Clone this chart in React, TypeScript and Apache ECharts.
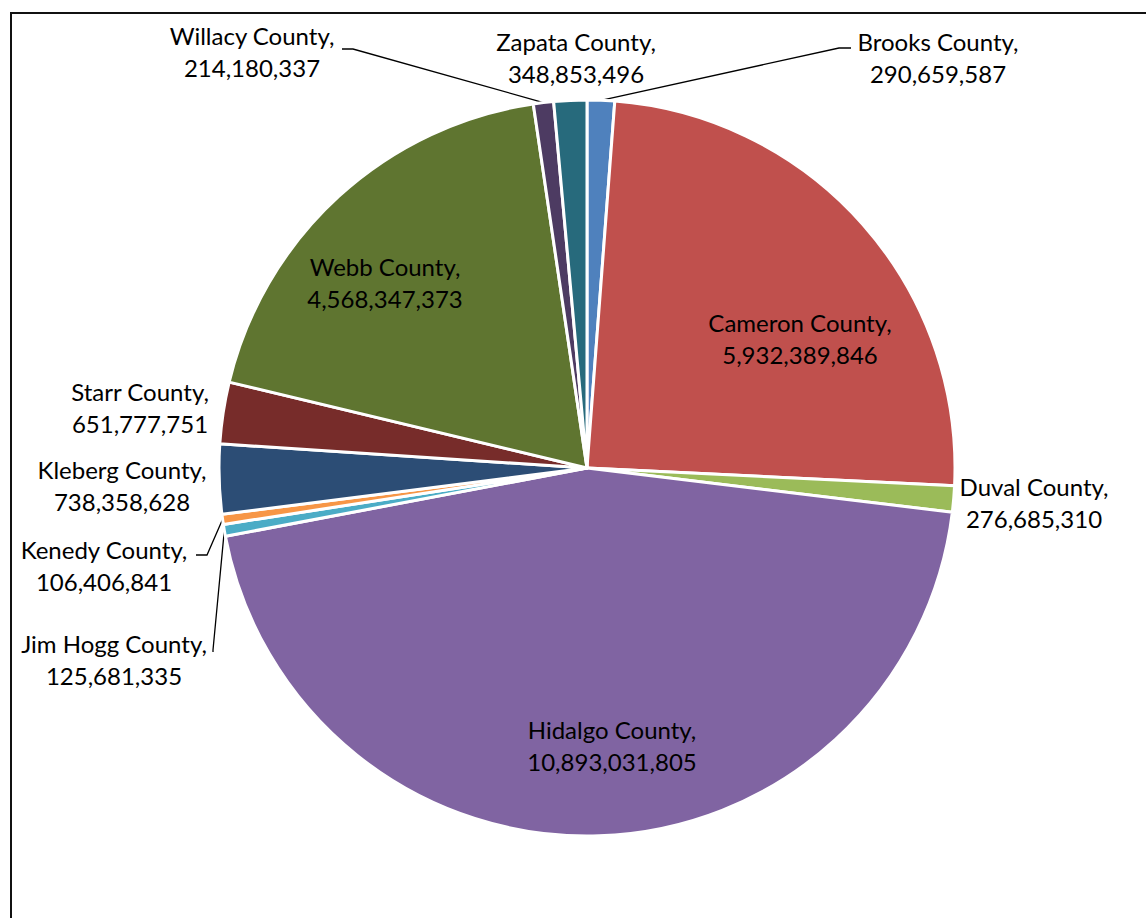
import React, { useEffect, useRef } from "react";
import * as echarts from "echarts";

// ---- data ----
const counties = [
  "Brooks County",
  "Cameron County",
  "Duval County",
  "Hidalgo County",
  "Jim Hogg County",
  "Kenedy County",
  "Kleberg County",
  "Starr County",
  "Webb County",
  "Willacy County",
  "Zapata County",
];
const amounts = [
  290659587, 5932389846, 276685310, 10893031805, 125681335, 106406841,
  738358628, 651777751, 4568347373, 214180337, 348853496,
];
const sliceColors = [
  "#4F81BD", "#C0504D", "#9BBB59", "#8064A2", "#4BACC6", "#F79646",
  "#2C4D75", "#772C2A", "#5F7530", "#4D3B62", "#276A7C",
];

// ---- label layout (positions of label blocks, centre point) ----
const labelCenters: Record<string, [number, number]> = {
  "Brooks County": [938, 57],
  "Cameron County": [800, 338],
  "Duval County": [1034, 502],
  "Hidalgo County": [612, 745],
  "Jim Hogg County": [114, 659],
  "Kenedy County": [104, 565],
  "Kleberg County": [122, 485],
  "Starr County": [140, 407],
  "Webb County": [385, 282],
  "Willacy County": [252, 51],
  "Zapata County": [576, 57],
};
// leader lines: elbow and end points (start comes from the slice edge)
const leaders: Record<string, [number, number][]> = {
  "Brooks County": [[839, 48], [851, 48]],
  "Willacy County": [[353, 49], [342, 49]],
  "Kenedy County": [[207, 555], [196, 555]],
  "Jim Hogg County": [[213, 650], [213, 652]],
};
const insideLabels = ["Cameron County", "Hidalgo County", "Webb County"];

export default function App() {
  const ref = useRef<HTMLDivElement>(null);
  useEffect(() => {
    if (!ref.current) return;
    const chart = echarts.init(ref.current, null, { renderer: "svg" });
    const data = counties.map((name, i) => ({
      name,
      value: amounts[i],
      itemStyle: { color: sliceColors[i] },
      label: { position: insideLabels.includes(name) ? "inside" : "outside" },
      labelLine: { show: !!leaders[name] },
    }));
    chart.setOption({
      animation: false,
      backgroundColor: "#ffffff",
      graphic: [
        {
          type: "rect",
          shape: { x: 11, y: 13, width: 1200, height: 1000 },
          style: { fill: "none", stroke: "#111", lineWidth: 2 },
          silent: true,
        },
      ],
      series: [
        {
          type: "pie",
          center: [587, 468],
          radius: 368,
          startAngle: 90,
          clockwise: true,
          avoidLabelOverlap: false,
          itemStyle: { borderColor: "#ffffff", borderWidth: 3 },
          label: {
            show: true,
            color: "#000",
            fontFamily: "Lato",
            fontSize: 24,
            lineHeight: 32,
            align: "center",
            formatter: (p: any) =>
              `${p.name},\n${Number(p.value).toLocaleString("en-US")}`,
          },
          labelLine: {
            lineStyle: { color: "#000", width: 1.3 },
            length: 20,
            length2: 10,
          },
          labelLayout: (params: any) => {
            const name = counties[params.dataIndex];
            const c = labelCenters[name];
            const out: any = {
              x: c[0],
              y: c[1],
              align: "center",
              verticalAlign: "middle",
            };
            const l = leaders[name];
            if (l && params.labelLinePoints) {
              out.labelLinePoints = [params.labelLinePoints[0], l[0], l[1]];
            }
            return out;
          },
          data,
        },
      ],
    });
    return () => chart.dispose();
  }, []);
  return (
    <div
      ref={ref}
      style={{ position: "fixed", left: 0, top: 0, width: 1146, height: 918 }}
    />
  );
}
